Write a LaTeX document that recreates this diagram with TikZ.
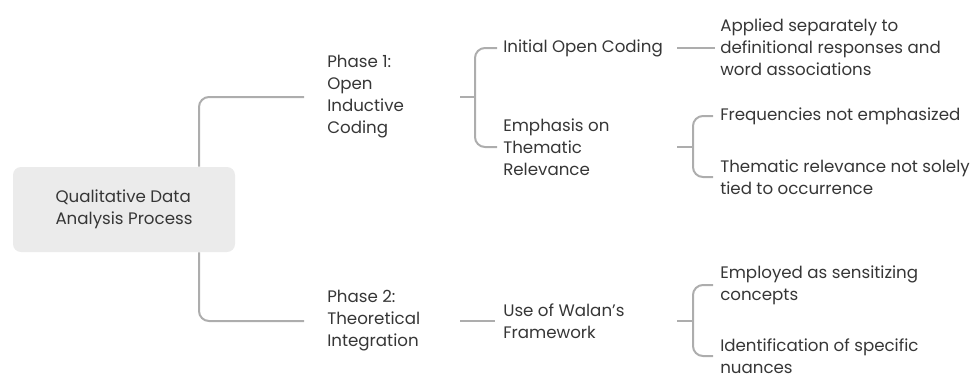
\documentclass[tikz,border=0pt]{standalone}
\usepackage{fontspec}
\setmainfont{Poppins}
\usetikzlibrary{calc}
\definecolor{txt}{HTML}{363636}
\definecolor{ln}{HTML}{ADADAD}
\definecolor{boxfill}{HTML}{EBEBEB}
\tikzset{
  lbl/.style={anchor=west, inner sep=0pt, align=left, text=txt, font=\fontsize{12.5}{16.5}\selectfont},
  conn/.style={draw=ln, line width=1.5pt, rounded corners=7.5pt},
  rootbox/.style={fill=boxfill, rounded corners=6pt, minimum width=222*0.75pt, minimum height=85*0.75pt, align=left, text=txt, font=\fontsize{12.5}{16.5}\selectfont, inner sep=0pt}
}
\begin{document}
\begin{tikzpicture}[x=0.75pt, y=-0.75pt]
\useasboundingbox (0,0) rectangle (970,376);
\node[rootbox] (root) at (124,209.5) {Qualitative Data\\Analysis Process};
\node[lbl] (ph1) at (327,97) {Phase 1:\\Open\\Inductive\\Coding};
\node[lbl] (ph2) at (327,321) {Phase 2:\\Theoretical\\Integration};
\node[lbl] (ioc) at (503,48) {Initial Open Coding};
\node[lbl] (emp) at (503,147) {Emphasis on\\Thematic\\Relevance};
\node[lbl] (walan) at (503,321) {Use of Walan's\\Framework};
\node[lbl] (app) at (720,47) {Applied separately to\\definitional responses and\\word associations};
\node[lbl] (freq) at (720,116) {Frequencies not emphasized};
\node[lbl] (them) at (720,177) {Thematic relevance not solely\\tied to occurrence};
\node[lbl] (empl) at (720,285) {Employed as sensitizing\\concepts};
\node[lbl] (ident) at (720,356) {Identification of specific\\nuances};
% root connectors
\draw[conn] ($(root.north)+(75,0)$) |- ($(ph1.west)+(-23,0)$);
\draw[conn] ($(root.south)+(75,0)$) |- ($(ph2.west)+(-23,0)$);
% phase 1 bracket
\draw[conn] ($(ph1.west)+(133,0)$) -- ($(ph1.west)+(148,0)$);
\draw[conn] ($(ioc.west)+(-6,0)$) -| ($(ph1.west)+(148,0)$) |- ($(emp.west)+(-6,0)$);
% phase 2
\draw[conn] ($(ph2.west)+(133,0)$) -- ($(walan.west)+(-8,0)$);
% initial open coding
\draw[conn] ($(app.west)+(-43,1)$) -- ($(app.west)+(-5,1)$);
% emphasis bracket
\draw[conn] ($(emp.west)+(174,0)$) -- ($(emp.west)+(190,0)$);
\draw[conn] ($(freq.west)+(-7,0)$) -| ($(emp.west)+(190,0)$) |- ($(them.west)+(-7,0)$);
% walan bracket
\draw[conn] ($(walan.west)+(174,0)$) -- ($(walan.west)+(190,0)$);
\draw[conn] ($(empl.west)+(-7,0)$) -| ($(walan.west)+(190,0)$) |- ($(ident.west)+(-7,0)$);
\end{tikzpicture}
\end{document}
